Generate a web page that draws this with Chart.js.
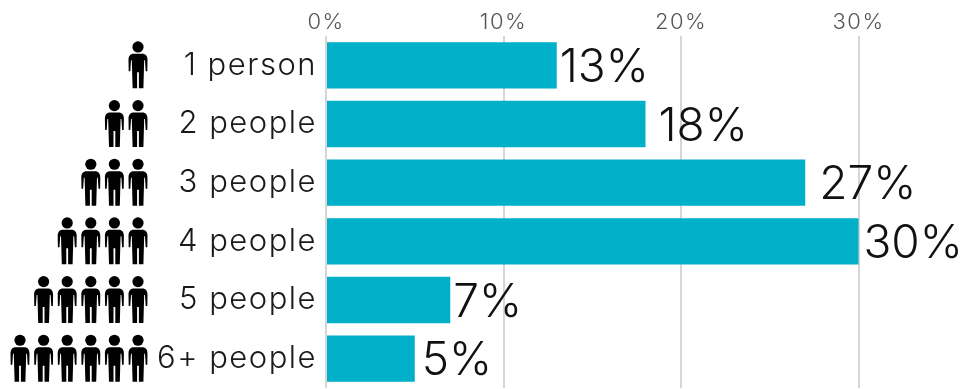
<!DOCTYPE html>
<html>
<head>
<meta charset="utf-8">
<script src="https://cdn.jsdelivr.net/npm/chart.js@4"></script>
<style>
  html, body { margin: 0; padding: 0; background: #fff; }
  canvas { display: block; }
</style>
</head>
<body>
<canvas id="grafico" width="968" height="389"></canvas>
<script>
const categorie = ["1 person", "2 people", "3 people", "4 people", "5 people", "6+ people"];
const percentuali = [13, 18, 27, 30, 7, 5];
const persone = [1, 2, 3, 4, 5, 6];
const tickAsse = [0, 10, 20, 30];

// space between the bar end and its value, per row
const distanzaLabel = [3, 13, 14, 5, 3, 7];

const FONT = 'Inter, "DejaVu Sans", sans-serif';

function omino(ctx, cx, cy){
    // little standing figure, cy is the middle of the row
    let t = cy - 24;
    ctx.beginPath();
    ctx.arc(cx, t + 5.6, 5.6, 0, Math.PI * 2);
    ctx.fill();
    ctx.beginPath();
    ctx.moveTo(cx - 4, t + 12.5);
    ctx.lineTo(cx + 4, t + 12.5);
    ctx.bezierCurveTo(cx + 8, t + 12.5, cx + 9.5, t + 15, cx + 9.5, t + 19);
    ctx.lineTo(cx + 9.3, t + 30);
    ctx.lineTo(cx + 7.7, t + 30);
    ctx.lineTo(cx + 7, t + 19);
    ctx.lineTo(cx + 6.2, t + 19);
    ctx.lineTo(cx + 5.4, t + 47);
    ctx.lineTo(cx + 0.9, t + 47);
    ctx.lineTo(cx + 0.9, t + 31);
    ctx.lineTo(cx - 0.9, t + 31);
    ctx.lineTo(cx - 0.9, t + 47);
    ctx.lineTo(cx - 5.4, t + 47);
    ctx.lineTo(cx - 6.2, t + 19);
    ctx.lineTo(cx - 7, t + 19);
    ctx.lineTo(cx - 7.7, t + 30);
    ctx.lineTo(cx - 9.3, t + 30);
    ctx.lineTo(cx - 9.5, t + 19);
    ctx.bezierCurveTo(cx - 9.5, t + 15, cx - 8, t + 12.5, cx - 4, t + 12.5);
    ctx.closePath();
    ctx.fill();
}

const etichette = {
    id: "etichette",
    // axis text is spaced out a little, the values are not
    beforeDraw(chart){
        chart.ctx.letterSpacing = "1.5px";
    },
    beforeDatasetsDraw(chart){
        chart.ctx.letterSpacing = "0px";
    },
    afterDatasetsDraw(chart){
        let ctx = chart.ctx;
        let x = chart.scales.x;
        let y = chart.scales.y;
        ctx.save();
        ctx.fillStyle = "#111";
        ctx.font = "300 46px " + FONT;
        ctx.textAlign = "left";
        ctx.textBaseline = "middle";
        percentuali.forEach((val, i) => {
            ctx.fillText(val + "%", x.getPixelForValue(val) + distanzaLabel[i], y.getPixelForValue(i) + 3);
        });
        ctx.fillStyle = "#000";
        persone.forEach((n, i) => {
            for(let k = 0; k < n; k++){
                omino(ctx, 138 - k * 23.6, y.getPixelForValue(i));
            }
        });
        ctx.restore();
    }
};

new Chart(document.getElementById("grafico"), {
    type: "bar",
    data: {
        labels: categorie,
        datasets: [{
            data: percentuali,
            backgroundColor: "#00afc8",
            barPercentage: 0.79,
            categoryPercentage: 1
        }]
    },
    plugins: [etichette],
    options: {
        indexAxis: "y",
        responsive: false,
        animation: false,
        layout: { padding: { right: 3, bottom: 1 } },
        plugins: { legend: { display: false }, tooltip: { enabled: false } },
        scales: {
            x: {
                position: "top",
                min: 0,
                max: 36,
                afterFit(scale){
                    scale.height = 36;
                    scale.paddingLeft = 0;
                    scale.paddingRight = 0;
                },
                afterBuildTicks(scale){ scale.ticks = tickAsse.map(v => ({ value: v })); },
                grid: { color: "#d6d6d6", lineWidth: 2, drawTicks: false },
                border: { display: false },
                ticks: {
                    color: "#555",
                    padding: 0,
                    maxRotation: 0,
                    font: { family: FONT, size: 22, weight: "300" },
                    callback: v => v + "%"
                }
            },
            y: {
                afterFit(scale){
                    scale.width = 326;
                    scale.paddingTop = 0;
                    scale.paddingBottom = 0;
                },
                grid: { display: false },
                border: { display: false },
                ticks: {
                    color: "#1a1a1a",
                    padding: 1,
                    font: { family: FONT, size: 31, weight: "300" }
                }
            }
        }
    }
});
</script>
</body>
</html>
